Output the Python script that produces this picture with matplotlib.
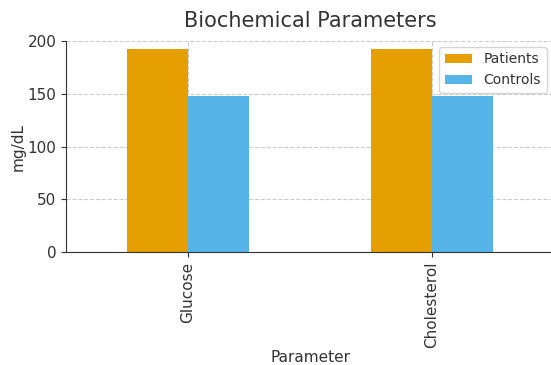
import matplotlib.pyplot as plt
import numpy as np

# biochemical values
parameters = ["Glucose", "Cholesterol"]
patients = [192.5, 192.5]
controls = [148, 148]

plt.rcParams['font.family'] = ['DejaVu Sans']
txt = "#333333"

fig = plt.figure(figsize=(5.51, 3.65), dpi=100)
ax = fig.add_axes([66 / 551, 1 - 252 / 365, 488 / 551, 211 / 365])

x = np.arange(len(parameters))
w = 0.25
ax.bar(x - w / 2, patients, w, color="#E69F00", label="Patients", zorder=2)
ax.bar(x + w / 2, controls, w, color="#56B4E9", label="Controls", zorder=2)

ax.set_xlim(-0.5, 1.5)
ax.set_ylim(0, 200)
ax.set_yticks([0, 50, 100, 150, 200])
ax.set_xticks(x)
ax.set_xticklabels(parameters, rotation=90, fontsize=11, color=txt)
ax.tick_params(axis="y", labelsize=11, labelcolor=txt, colors=txt)
ax.tick_params(axis="x", colors=txt)
ax.grid(True, linestyle="--", color="#cccccc", linewidth=0.8, zorder=0)

for s in ["top", "right"]:
    ax.spines[s].set_visible(False)
for s in ["left", "bottom"]:
    ax.spines[s].set_color(txt)

ax.set_title("Biochemical Parameters", fontsize=15, color=txt, pad=10)
ax.set_xlabel("Parameter", fontsize=11, color=txt, labelpad=1)
ax.set_ylabel("mg/dL", fontsize=11, color=txt, labelpad=1)
leg = ax.legend(loc="upper right", fontsize=10, bbox_to_anchor=(0.999, 1.005))
for t in leg.get_texts():
    t.set_color(txt)

fig.savefig("out.png", dpi=100)
